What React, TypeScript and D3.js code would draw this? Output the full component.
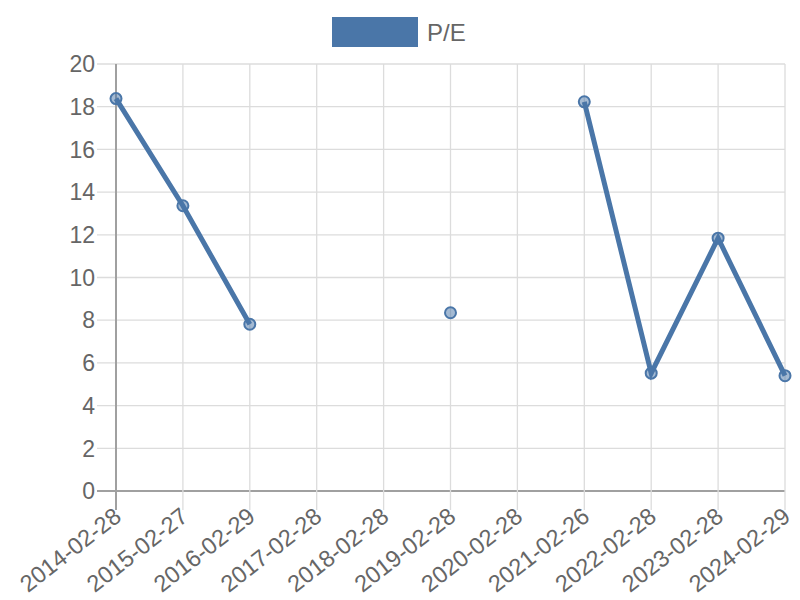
import React, { useEffect, useRef } from 'react';
import * as d3 from 'd3';

// fiscal year-end dates and P/E values (null = no value)
const dates = [
  '2014-02-28', '2015-02-27', '2016-02-29', '2017-02-28', '2018-02-28', '2019-02-28',
  '2020-02-28', '2021-02-26', '2022-02-28', '2023-02-28', '2024-02-29'
];
const peValues: (number | null)[] = [18.38, 13.36, 7.81, null, null, 8.35, null, 18.23, 5.52, 11.84, 5.4];
const yTicks = [0, 2, 4, 6, 8, 10, 12, 14, 16, 18, 20];
const seriesName = 'P/E';

const App: React.FC = () => {
  const svgRef = useRef<SVGSVGElement>(null);

  useEffect(() => {
    const svg = d3.select(svgRef.current);
    svg.selectAll('*').remove();

    const width = 800;
    const height = 600;
    const margin = { top: 64, right: 15, bottom: 109, left: 116 };
    const font = '"Liberation Sans", Arial, sans-serif';
    const color = '#4a76a8';

    const x = d3.scalePoint<string>()
      .domain(dates)
      .range([margin.left, width - margin.right]);

    const y = d3.scaleLinear()
      .domain([0, 20])
      .range([height - margin.bottom, margin.top]);

    // horizontal grid + left ticks
    svg.append('g')
      .selectAll('line')
      .data(yTicks)
      .enter()
      .append('line')
      .attr('x1', margin.left - 19)
      .attr('x2', width - margin.right)
      .attr('y1', d => y(d))
      .attr('y2', d => y(d))
      .attr('stroke', d => (d === 0 ? '#a0a0a0' : '#dcdcdc'))
      .attr('stroke-width', d => (d === 0 ? 2 : 1.3));

    // vertical grid + bottom ticks
    svg.append('g')
      .selectAll('line')
      .data(dates)
      .enter()
      .append('line')
      .attr('x1', d => x(d)!)
      .attr('x2', d => x(d)!)
      .attr('y1', margin.top)
      .attr('y2', height - margin.bottom + 19)
      .attr('stroke', (d, i) => (i === 0 ? '#a0a0a0' : '#dcdcdc'))
      .attr('stroke-width', (d, i) => (i === 0 ? 2 : 1.3));

    // y tick labels
    svg.append('g')
      .selectAll('text')
      .data(yTicks)
      .enter()
      .append('text')
      .attr('x', margin.left - 21)
      .attr('y', d => y(d))
      .attr('dy', '0.36em')
      .attr('text-anchor', 'end')
      .attr('fill', '#666')
      .style('font-family', font)
      .style('font-size', '23px')
      .text(d => d);

    // x tick labels (rotated)
    svg.append('g')
      .selectAll('text')
      .data(dates)
      .enter()
      .append('text')
      .attr('transform', d => `translate(${x(d)! - 2},${height - margin.bottom + 17}) rotate(-38)`)
      .attr('text-anchor', 'end')
      .attr('dy', '0.6em')
      .attr('fill', '#666')
      .style('font-family', font)
      .style('font-size', '23.5px')
      .text(d => d);

    const points = dates.map((d, i) => ({ date: d, value: peValues[i] }));

    const line = d3.line<{ date: string; value: number | null }>()
      .defined(d => d.value !== null)
      .x(d => x(d.date)!)
      .y(d => y(d.value as number));

    svg.append('path')
      .datum(points)
      .attr('d', line)
      .attr('fill', 'none')
      .attr('stroke', color)
      .attr('stroke-width', 5)
      .attr('stroke-linejoin', 'miter');

    svg.append('g')
      .selectAll('circle')
      .data(points.filter(p => p.value !== null))
      .enter()
      .append('circle')
      .attr('cx', d => x(d.date)!)
      .attr('cy', d => y(d.value as number))
      .attr('r', 5.5)
      .attr('fill', 'rgba(74,118,168,0.5)')
      .attr('stroke', color)
      .attr('stroke-width', 2);

    // legend
    svg.append('rect')
      .attr('x', 332)
      .attr('y', 17)
      .attr('width', 86)
      .attr('height', 30)
      .attr('fill', color);

    svg.append('text')
      .attr('x', 427)
      .attr('y', 32)
      .attr('dy', '0.36em')
      .attr('fill', '#666')
      .style('font-family', font)
      .style('font-size', '24px')
      .text(seriesName);
  }, []);

  return (
    <svg
      ref={svgRef}
      width={800}
      height={600}
      style={{ position: 'absolute', left: 0, top: 0, background: '#fff' }}
    />
  );
};

export default App;
